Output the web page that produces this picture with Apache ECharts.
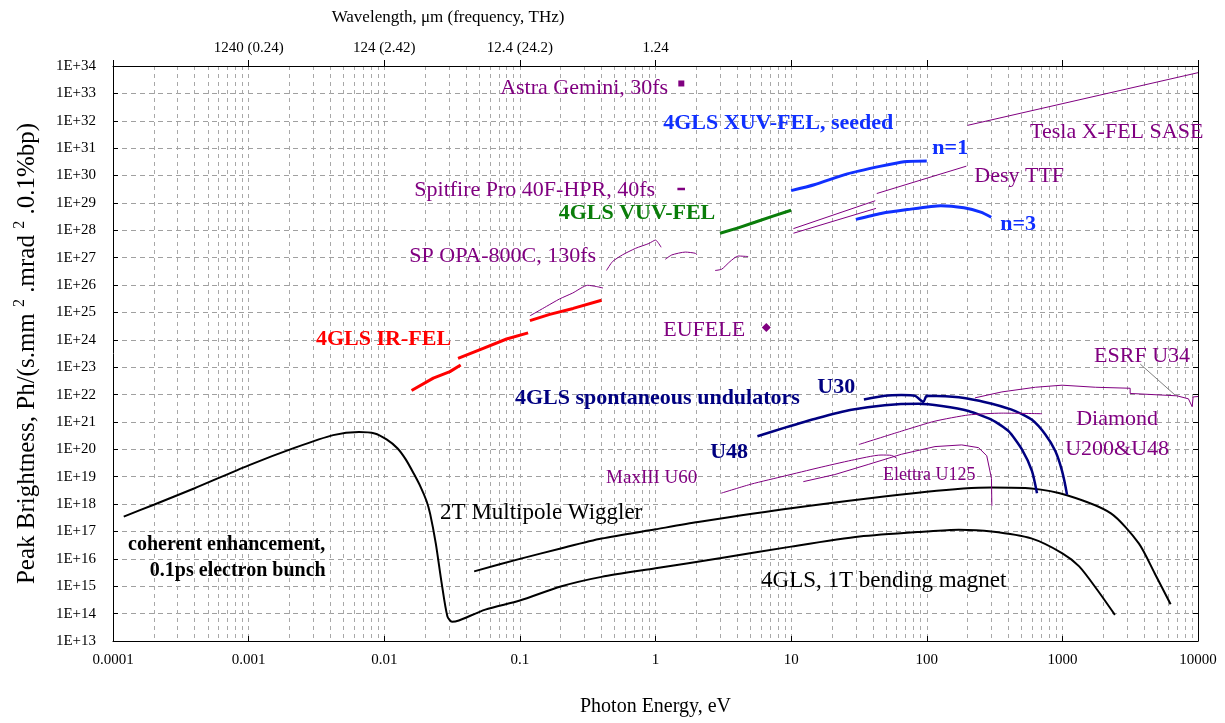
<!DOCTYPE html>
<html><head><meta charset="utf-8">
<script src="https://cdn.jsdelivr.net/npm/echarts@6/dist/echarts.min.js"></script>
<style>html,body{margin:0;padding:0;background:#fff}#c{width:1225px;height:723px}</style>
</head><body><div id="c"></div><script>
// ---------- tick labels ----------
const xTickLabels = ['0.0001','0.001','0.01','0.1','1','10','100','1000','10000'];
const wavelengthLabels = ['','1240 (0.24)','124 (2.42)','12.4 (24.2)','1.24','','','',''];
const yTickLabels = ['1E+13','1E+14','1E+15','1E+16','1E+17','1E+18','1E+19','1E+20','1E+21','1E+22','1E+23','1E+24','1E+25','1E+26','1E+27','1E+28','1E+29','1E+30','1E+31','1E+32','1E+33','1E+34'];

// ---------- series values [photon energy eV, peak brightness] ----------
const coherentBending = [[1.2e-4,3.5e17],[2.0e-4,9.5e17],[4.0e-4,3.8e18],[1.0e-3,2.6e19],[2.2e-3,1.15e20],[4.2e-3,3.3e20],[6.5e-3,4.3e20],[8.5e-3,3.8e20],[0.0104,2.3e20],[0.0125,1.1e20],[0.0144,4.3e19],[0.0165,1.3e19],[0.0186,4.1e18],[0.0205,1.3e18],[0.0218,4.4e17],[0.024,3.6e16],[0.0265,1.3e15],[0.0292,8e13],[0.0316,5e13],[0.0355,5.6e13],[0.0556,1.4e14],[0.1,3e14],[0.2,9.8e14],[0.4,2.2e15],[1,4.5e15],[3.05,1.07e16],[10,2.8e16],[32,6.5e16],[100,1e17],[172,1.15e17],[300,1e17],[590,5.6e16],[1000,1.6e16],[1330,5.3e15],[1800,7.6e14],[2440,9e13]];
const multipoleWiggler = [[0.046,3.5e15],[0.1,1e16],[0.2,2.4e16],[0.4,5.5e16],[1,1.2e17],[2.06,2.2e17],[10,7e17],[100,2.8e18],[300,4e18],[590,3.7e18],[1080,2.1e18],[2280,4.6e17],[3660,3.7e16],[4790,3e15],[6280,2.2e14]];
const irFelA = [[0.0159,1.4e22],[0.023,4e22],[0.0305,6.9e22],[0.0366,1.2e23]];
const irFelB = [[0.035,2.1e23],[0.0537,4.9e23],[0.0798,1.07e24],[0.115,1.8e24]];
const irFelC = [[0.1186,5e24],[0.166,8.5e24],[0.247,1.4e25],[0.4,2.8e25]];
const vuvFel = [[2.99,7.8e27],[4.07,1.23e28],[5.4,1.96e28],[7.35,3.3e28],[10,5.4e28]];
const xuvN1 = [[10,2.8e29],[14.8,4.6e29],[26,1.15e30],[46,2.2e30],[68,3.2e30],[100,3.4e30]];
const xuvN3 = [[30,2.5e28],[46,4.1e28],[72,5.7e28],[127,7.9e28],[188,6.6e28],[250,4.6e28],[299,3e28]];
const u30 = [[34.4,6.6e21],[49,9e21],[65,9.6e21],[82,9e21],[94.5,5.4e21],[100,9e21],[137,8.6e21],[203,7.1e21],[302,4.6e21],[450,2.5e21],[597,1.2e21],[749,3.5e20],[887,8.7e19],[995,1.6e19],[1082,2.2e18]];
const u48 = [[5.64,3e20],[9,6.2e20],[15.8,1.4e21],[27.9,2.8e21],[49,4.1e21],[87,4.6e21],[129,3.8e21],[203,2.5e21],[302,1.2e21],[401,4.6e20],[503,1e20],[597,1.6e19],[650,2.5e18]];
const teslaSase = [[200,6.8e31],[10000,5.7e33]];
const desyA = [[42.8,2.2e29],[196,2.2e30]];
const desyB = [[10.4,1.15e28],[41.7,1.2e29]];
const desyC = [[10.4,7.8e27],[42.2,6.3e28]];
const spitfire = [[1.45,3.2e29],[1.65,3.2e29]];
const astraGemini = [[1.55,2.3e33]];
const eufele = [[6.56,2.8e24]];
const opaA = [[0.1186,7.5e24],[0.157,1.66e25],[0.196,3.1e25],[0.245,5.1e25],[0.316,9.8e25],[0.364,8.9e25],[0.41,7.8e25]];
const opaB = [[0.435,3.4e26],[0.482,7.2e26],[0.57,1.26e27],[0.714,2.2e27],[0.894,3.3e27],[1.0,4.4e27],[1.1,2.4e27]];
const opaC = [[1.18,8.7e26],[1.32,1.26e27],[1.66,1.6e27],[1.96,1.45e27],[2.02,1.26e27]];
const opaD = [[2.75,3.4e26],[3.08,3.8e26],[3.54,7.2e26],[4.07,1.15e27],[4.82,1.1e27]];
const esrfU34 = [[227,7.6e21],[358,1.25e22],[632,1.85e22],[995,2.2e22],[1755,1.85e22],[3160,1.7e22],[3160,1.1e22],[7000,9e21],[8500,7e21],[9060,3.6e21],[9200,8.2e21],[10000,8.5e21]];
const esrfPointer = [[3750,1.3e23],[6790,9.5e21]];
const diamond = [[31.6,1.5e20],[65,4.6e20],[115,1.07e21],[203,1.8e21],[358,2.1e21],[708,2e21]];
const elettraU125 = [[12.3,6.6e18],[21,1.2e19],[37,2.8e19],[65,6.6e19],[115,1.26e20],[181,1.45e20],[241,1.15e20],[277,5.8e19],[300,8.7e18],[302,8.7e17]];
const maxU60 = [[3.05,2.5e18],[5.1,5.4e18],[9,1.07e19],[15.8,2.1e19],[28,4e19],[46,6.2e19],[55,6e19],[60,4.8e19]];

// ---------- styling ----------
const FONT = "'Liberation Serif','DejaVu Serif','Times New Roman',serif";
const PURPLE = '#800080', BLUE = '#1030ff', NAVY = '#000080', GREEN = '#0a7d0a', RED = '#ff0000', BLACK = '#000000';
const styles = {
  p:     {color: PURPLE, fontSize: 22, fontWeight: 'normal'},
  pm:    {color: PURPLE, fontSize: 19, fontWeight: 'normal'},
  ps:    {color: PURPLE, fontSize: 18, fontWeight: 'normal'},
  blue:  {color: BLUE, fontSize: 22, fontWeight: 'bold'},
  navy:  {color: NAVY, fontSize: 22, fontWeight: 'bold'},
  green: {color: GREEN, fontSize: 22, fontWeight: 'bold'},
  red:   {color: RED, fontSize: 22, fontWeight: 'bold'},
  black: {color: BLACK, fontSize: 23, fontWeight: 'normal'},
  blackb:{color: BLACK, fontSize: 20, fontWeight: 'bold'}
};
// annotation anchors in data space
const notes = [
  ['Astra Gemini, 30fs', 1.24, 1.6e33, 'p', 'right'],
  ['4GLS XUV-FEL, seeded', 1.14, 8.3e31, 'blue', 'left'],
  ['n=1', 110, 1e31, 'blue', 'left'],
  ['Tesla X-FEL SASE', 578, 3.9e31, 'p', 'left'],
  ['Desy TTF', 224, 9.6e29, 'p', 'left'],
  ['Spitfire Pro 40F-HPR, 40fs', 0.993, 2.9e29, 'p', 'right'],
  ['4GLS VUV-FEL', 2.76, 4e28, 'green', 'right'],
  ['n=3', 348, 1.7e28, 'blue', 'left'],
  ['SP OPA-800C, 130fs', 0.365, 1.15e27, 'p', 'right'],
  ['EUFELE', 1.14, 2.3e24, 'p', 'left'],
  ['4GLS IR-FEL', 0.0311, 1.07e24, 'red', 'right'],
  ['ESRF U34', 1714, 2.6e23, 'p', 'left'],
  ['4GLS spontaneous undulators', 11.6, 7.4e21, 'navy', 'right'],
  ['U30', 15.6, 1.9e22, 'navy', 'left'],
  ['Diamond', 2535, 1.3e21, 'p', 'center'],
  ['U200&U48', 2535, 1.0e20, 'p', 'center'],
  ['U48', 2.53, 7.9e19, 'navy', 'left'],
  ['MaxIII U60', 0.432, 8.9e18, 'pm', 'left'],
  ['Elettra U125', 47.6, 1.15e19, 'ps', 'left'],
  ['2T Multipole Wiggler', 0.0258, 4.7e17, 'black', 'left'],
  ['coherent enhancement,', 1.29e-4, 3.2e16, 'blackb', 'left'],
  ['0.1ps electron bunch', 1.87e-4, 3.6e15, 'blackb', 'left'],
  ['4GLS, 1T bending magnet', 6.0, 1.55e15, 'black', 'left']
];

function line(name, data, color, width, smooth) {
  return {name, type: 'line', data, symbol: 'none', showSymbol: false, smooth: smooth || false,
    lineStyle: {color, width, opacity: 1}, itemStyle: {color, opacity: 1}, silent: true, z: 3};
}
const series = [
  line('coherent', coherentBending, BLACK, 2, 0.25),
  line('wiggler', multipoleWiggler, BLACK, 2, 0.25),
  line('irA', irFelA, RED, 3), line('irB', irFelB, RED, 3), line('irC', irFelC, RED, 3),
  line('vuv', vuvFel, GREEN, 3),
  line('n1', xuvN1, BLUE, 3, 0.2), line('n3', xuvN3, BLUE, 3, 0.2),
  line('u30', u30, NAVY, 2.5, 0.2), line('u48', u48, NAVY, 2.5, 0.2),
  line('tesla', teslaSase, PURPLE, 1), line('desyA', desyA, PURPLE, 1), line('desyB', desyB, PURPLE, 1), line('desyC', desyC, PURPLE, 1),
  line('spitfire', spitfire, PURPLE, 2.5),
  line('opaA', opaA, PURPLE, 1, 0.2), line('opaB', opaB, PURPLE, 1, 0.2), line('opaC', opaC, PURPLE, 1, 0.2), line('opaD', opaD, PURPLE, 1, 0.2),
  line('esrf', esrfU34, PURPLE, 1), line('esrfPtr', esrfPointer, '#808080', 1),
  line('diamond', diamond, PURPLE, 1, 0.2), line('elettra', elettraU125, PURPLE, 1), line('max', maxU60, PURPLE, 1, 0.2),
  {type: 'scatter', data: astraGemini, symbol: 'rect', symbolSize: 6, itemStyle: {color: PURPLE, opacity: 1}, silent: true},
  {type: 'scatter', data: eufele, symbol: 'diamond', symbolSize: 9, itemStyle: {color: PURPLE, opacity: 1}, silent: true}
];
notes.forEach(n => {
  const s = styles[n[3]];
  series.push({type: 'scatter', silent: true, symbolSize: 0, z: 10, data: [[n[1], n[2]]],
    itemStyle: {opacity: 1, color: s.color},
    label: {show: true, position: 'inside', formatter: n[0], align: n[4], verticalAlign: 'middle',
      fontFamily: FONT, fontSize: s.fontSize, fontWeight: s.fontWeight, color: s.color, opacity: 1,
      textBorderWidth: 0, textBorderColor: 'transparent', textShadowBlur: 0}});
});

const gridLine = {show: true, lineStyle: {color: '#a8a8a8', type: [4, 4], width: 1}};
const tickFont = {fontFamily: FONT, fontSize: 15, color: '#000'};
function decadeIndex(v, lo) { return Math.round(Math.log10(v)) - lo; }

const option = {
  animation: false,
  backgroundColor: '#fff',
  grid: {left: 113, right: 27, top: 66, bottom: 82, containLabel: false},
  xAxis: [
    {type: 'log', logBase: 10, min: 1e-4, max: 1e4, interval: 1, splitNumber: 8, position: 'bottom',
      axisLine: {lineStyle: {color: '#000', width: 1}}, axisTick: {inside: true, length: 5, lineStyle: {color: '#000'}},
      axisLabel: Object.assign({margin: 12, formatter: v => xTickLabels[decadeIndex(v, -4)] || ''}, tickFont),
      splitLine: gridLine, minorTick: {show: false, splitNumber: 9}, minorSplitLine: gridLine,
      name: 'Photon Energy, eV', nameLocation: 'middle', nameGap: 56,
      nameTextStyle: {fontFamily: FONT, fontSize: 20, color: '#000'}},
    {type: 'log', logBase: 10, min: 1e-4, max: 1e4, interval: 1, splitNumber: 8, position: 'top',
      axisLine: {lineStyle: {color: '#000', width: 1}}, axisTick: {inside: false, length: 6, lineStyle: {color: '#000'}},
      axisLabel: Object.assign({margin: 10, formatter: v => wavelengthLabels[decadeIndex(v, -4)] || ''}, tickFont),
      splitLine: {show: false}}
  ],
  yAxis: [
    {type: 'log', logBase: 10, min: 1e13, max: 1e34, interval: 1, splitNumber: 21,
      axisLine: {lineStyle: {color: '#000', width: 1}}, axisTick: {inside: true, length: 5, lineStyle: {color: '#000'}},
      axisLabel: Object.assign({margin: 17, interval: 0, formatter: v => yTickLabels[decadeIndex(v, 13)] || ''}, tickFont),
      splitLine: {show: true, lineStyle: {color: '#a0a0a0', type: [5, 4], width: 1}},
      name: 'Peak Brightness, Ph/(s.mm {s|2} .mrad {s|2} .0.1%bp)', nameLocation: 'middle', nameGap: 71,
      nameTextStyle: {fontFamily: FONT, fontSize: 25, color: '#000',
        rich: {s: {fontFamily: FONT, fontSize: 16, color: '#000', verticalAlign: 'top', padding: [0, 0, 14, 0]}}}},
    {type: 'log', logBase: 10, min: 1e13, max: 1e34, interval: 1, splitNumber: 21, position: 'right',
      axisLine: {show: true, lineStyle: {color: '#000', width: 1}}, axisTick: {inside: true, length: 5, lineStyle: {color: '#000'}},
      axisLabel: {show: false}, splitLine: {show: false}}
  ],
  graphic: [{type: 'text', x: 448, y: 18, style: {text: 'Wavelength, \u03bcm (frequency, THz)', align: 'center', verticalAlign: 'middle',
    font: "17px 'Liberation Serif', serif", fill: '#000'}}],
  series
};
const chart = echarts.init(document.getElementById('c'), null, {renderer: 'canvas'});
chart.setOption(option);
</script></body></html>
